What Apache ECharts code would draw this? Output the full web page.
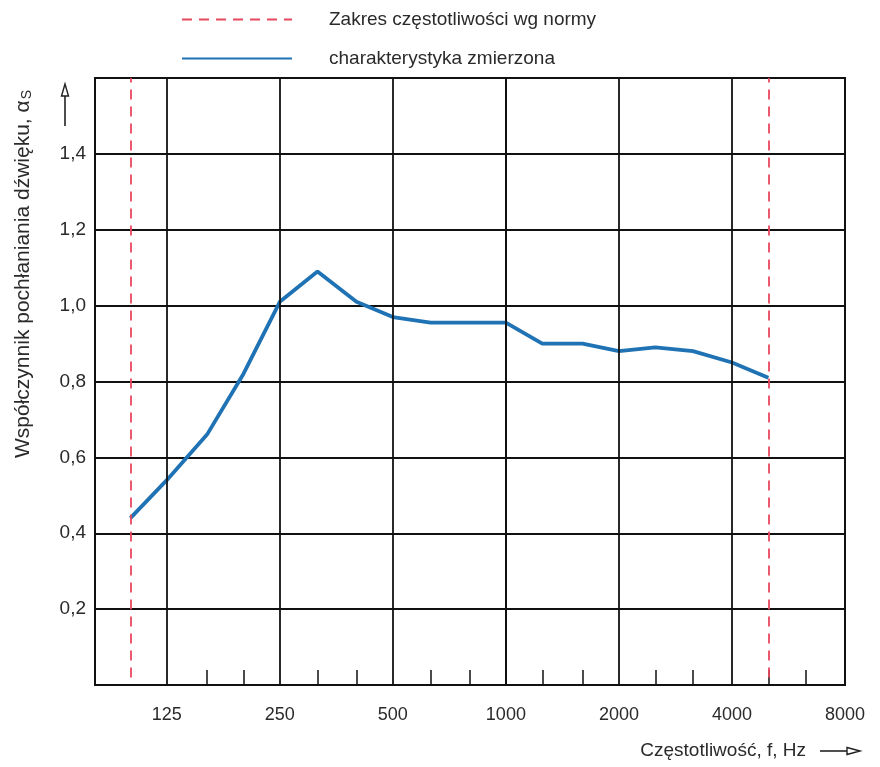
<!DOCTYPE html>
<html>
<head>
<meta charset="utf-8">
<script src="https://cdn.jsdelivr.net/npm/echarts@6/dist/echarts.min.js"></script>
<style>
html,body{margin:0;padding:0;background:#fff;}
#chart{width:880px;height:767px;}
</style>
</head>
<body>
<div id="chart"></div>
<script>
// ---- data ----
const bandFreqs = [100,125,160,200,250,315,400,500,630,800,1000,1250,1600,2000,2500,3150,4000,5000];
const alphaS    = [0.44,0.54,0.66,0.82,1.01,1.09,1.01,0.97,0.955,0.955,0.955,0.90,0.90,0.88,0.89,0.88,0.85,0.81];
const normRange = [100,5000];
const octaveFreqs = [125,250,500,1000,2000,4000,8000];
const octaveLabels = ['125','250','500','1000','2000','4000','8000'];
const minorTickFreqs = [160,200,315,400,630,800,1250,1600,2500,3150,5000,6300];
const yTickLabels = ['0,2','0,4','0,6','0,8','1,0','1,2','1,4'];
const seriesNames = ['Zakres częstotliwości wg normy','charakterystyka zmierzona'];

const oct = f => Math.log2(f/1000);
const FONT = '"Liberation Sans", Arial, sans-serif';

const chart = echarts.init(document.getElementById('chart'), null, {renderer:'canvas'});
chart.setOption({
  animation:false,
  backgroundColor:'#fff',
  textStyle:{fontFamily:FONT},
  legend:{
    orient:'vertical', left:176, top:5, itemWidth:110, itemHeight:14, itemGap:20,
    itemStyle:{opacity:0},
    textStyle:{fontSize:19, color:'#2a2a2a', fontFamily:FONT, padding:[0,0,0,32]},
    data:seriesNames
  },
  grid:{left:95, right:35, top:78, bottom:82, show:true, borderColor:'#111', borderWidth:2, backgroundColor:'transparent'},
  xAxis:{
    type:'value', min:oct(80.5), max:oct(8000),
    axisLine:{show:true, lineStyle:{color:'#111', width:2}},
    splitLine:{show:false},
    axisTick:{show:true, inside:true, length:15, customValues:minorTickFreqs.map(oct), lineStyle:{color:'#111', width:1.5}},
    axisLabel:{customValues:octaveFreqs.map(oct), margin:21, fontSize:18, color:'#2a2a2a', fontFamily:FONT,
      formatter:v=>{const i=octaveFreqs.findIndex(f=>Math.abs(oct(f)-v)<1e-6);return i>=0?octaveLabels[i]:'';}}
  },
  yAxis:{
    type:'value', min:0, max:1.6, interval:0.2,
    axisLine:{show:true, lineStyle:{color:'#111', width:2}},
    axisTick:{show:false},
    splitLine:{show:true, lineStyle:{color:'#111', width:2}},
    axisLabel:{fontSize:19, color:'#2a2a2a', margin:9, fontFamily:FONT,
      formatter:v=>{const i=Math.round(v/0.2)-1;return (i>=0&&i<yTickLabels.length)?yTickLabels[i]:'';}}
  },
  series:[
    {
      name:'grid', type:'line', data:[], silent:true,
      markLine:{silent:true, symbol:['none','none'], label:{show:false},
        lineStyle:{color:'#111', width:1.8, type:'solid'},
        data:octaveFreqs.slice(0,6).map(f=>({xAxis:oct(f)}))}
    },
    {
      name:seriesNames[0], type:'line', data:[], showSymbol:false, symbol:'none',
      lineStyle:{color:'#e8485e', width:2, type:[10,7]}, itemStyle:{color:'#e8485e'},
      markLine:{silent:true, symbol:['none','none'], label:{show:false},
        lineStyle:{color:'#e8485e', width:1.8, type:[10,7]},
        data:normRange.map(f=>[{coord:[oct(f),0.02]},{coord:[oct(f),1.6]}])}
    },
    {
      name:seriesNames[1], type:'line', symbol:'none',
      lineStyle:{color:'#1f72b3', width:3.8}, itemStyle:{color:'#1f72b3'},
      data:bandFreqs.map((f,i)=>[oct(f),alphaS[i]])
    }
  ],
  graphic:[
    {type:'text', x:23, y:274, rotation:Math.PI/2,
      style:{text:'{n|Współczynnik pochłaniania dźwięku, α}{s|S}', align:'center', verticalAlign:'middle',
        rich:{n:{fontSize:21, fill:'#2a2a2a', fontFamily:FONT}, s:{fontSize:14, fill:'#2a2a2a', fontFamily:FONT, padding:[9,0,0,1]}}}},
    {type:'line', shape:{x1:65, y1:126, x2:65, y2:94}, style:{stroke:'#222', lineWidth:1.6}},
    {type:'polygon', shape:{points:[[65,84],[61.5,96],[68.5,96]]}, style:{fill:'#fff', stroke:'#222', lineWidth:1.4}},
    {type:'text', x:806, y:751, style:{text:'Częstotliwość, f, Hz', align:'right', verticalAlign:'middle', fontSize:19, fill:'#2a2a2a', fontFamily:FONT}},
    {type:'line', shape:{x1:820, y1:751, x2:848, y2:751}, style:{stroke:'#222', lineWidth:1.6}},
    {type:'polygon', shape:{points:[[860,751],[847,747.5],[847,754.5]]}, style:{fill:'#fff', stroke:'#222', lineWidth:1.4}}
  ]
});
</script>
</body>
</html>
